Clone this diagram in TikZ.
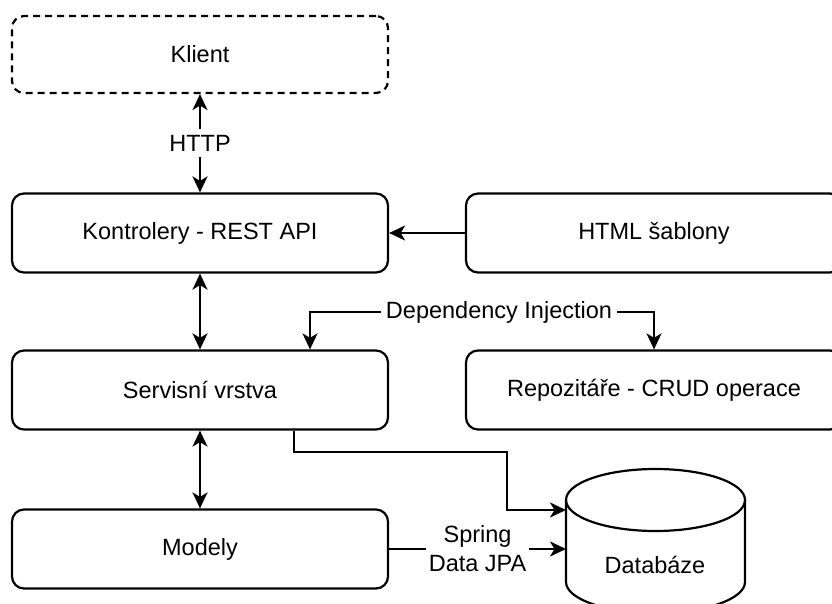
\documentclass[tikz,border=0pt]{standalone}
\usepackage{fontspec}
\setmainfont{Liberation Sans}
\usetikzlibrary{arrows.meta,calc}
\begin{document}
\begin{tikzpicture}[x=1pt,y=-1pt,
  >={Stealth[length=16pt,width=15pt,inset=4.5pt]},
  every node/.style={font=\fontsize{23.5}{29}\selectfont},
  box/.style={draw, line width=2.2pt, rounded corners=12pt,
    minimum width=376pt, minimum height=79pt, inner sep=0pt},
  arr/.style={line width=2.2pt, ->},
  biarr/.style={line width=2.2pt, <->},
  gap/.style={fill=white, inner sep=6pt, align=center},
]
\useasboundingbox (0,0) rectangle (832,604);
\clip (0,0) rectangle (832,604);

% layers
\node[box, dashed, dash pattern=on 7pt off 5pt, minimum height=77pt] (klient) at (200,54.5) {Klient};
\node[box] (kon)  at (200,233) {Kontrolery - REST API};
\node[box] (html) at (654,233) {HTML šablony};
\node[box] (serv) at (200,390) {Servisní vrstva};
\node[box] (repo) at (654,390) {Repozitáře - CRUD operace};
\node[box] (mod)  at (200,549) {Modely};

% database cylinder
\node[minimum width=179pt, minimum height=144pt, inner sep=0pt] (db) at (655.5,541) {};
\draw[line width=2.2pt, fill=white] (655.5,500) ellipse [x radius=89.5, y radius=31];
\draw[line width=2.2pt] (566,500) -- (566,582)
  arc [start angle=180, end angle=0, x radius=89.5, y radius=31] -- (745,500);
\node at (655,565) {Databáze};
\coordinate (dbtop) at (566,510);
\coordinate (dbmid) at (566,549);

% connectors
\draw[biarr] (klient) -- node[gap] {HTTP} (kon);
\draw[arr] (html) -- (kon);
\draw[biarr] (kon) -- (serv);
\draw[biarr] (serv) -- (mod);

\node[inner sep=5pt] (di) at (499,312) {Dependency Injection};
\draw[arr] (di.west) -| ([xshift=110pt]serv.north);
\draw[arr] (di.east) -| (repo.north);

\draw[arr] ([xshift=94pt]serv.south) -- ++(0,21) -- ++(213,0) |- (dbtop);
\draw[arr] (mod.east) -- node[gap, inner sep=3pt] {Spring\\Data JPA} (dbmid);
\end{tikzpicture}
\end{document}
